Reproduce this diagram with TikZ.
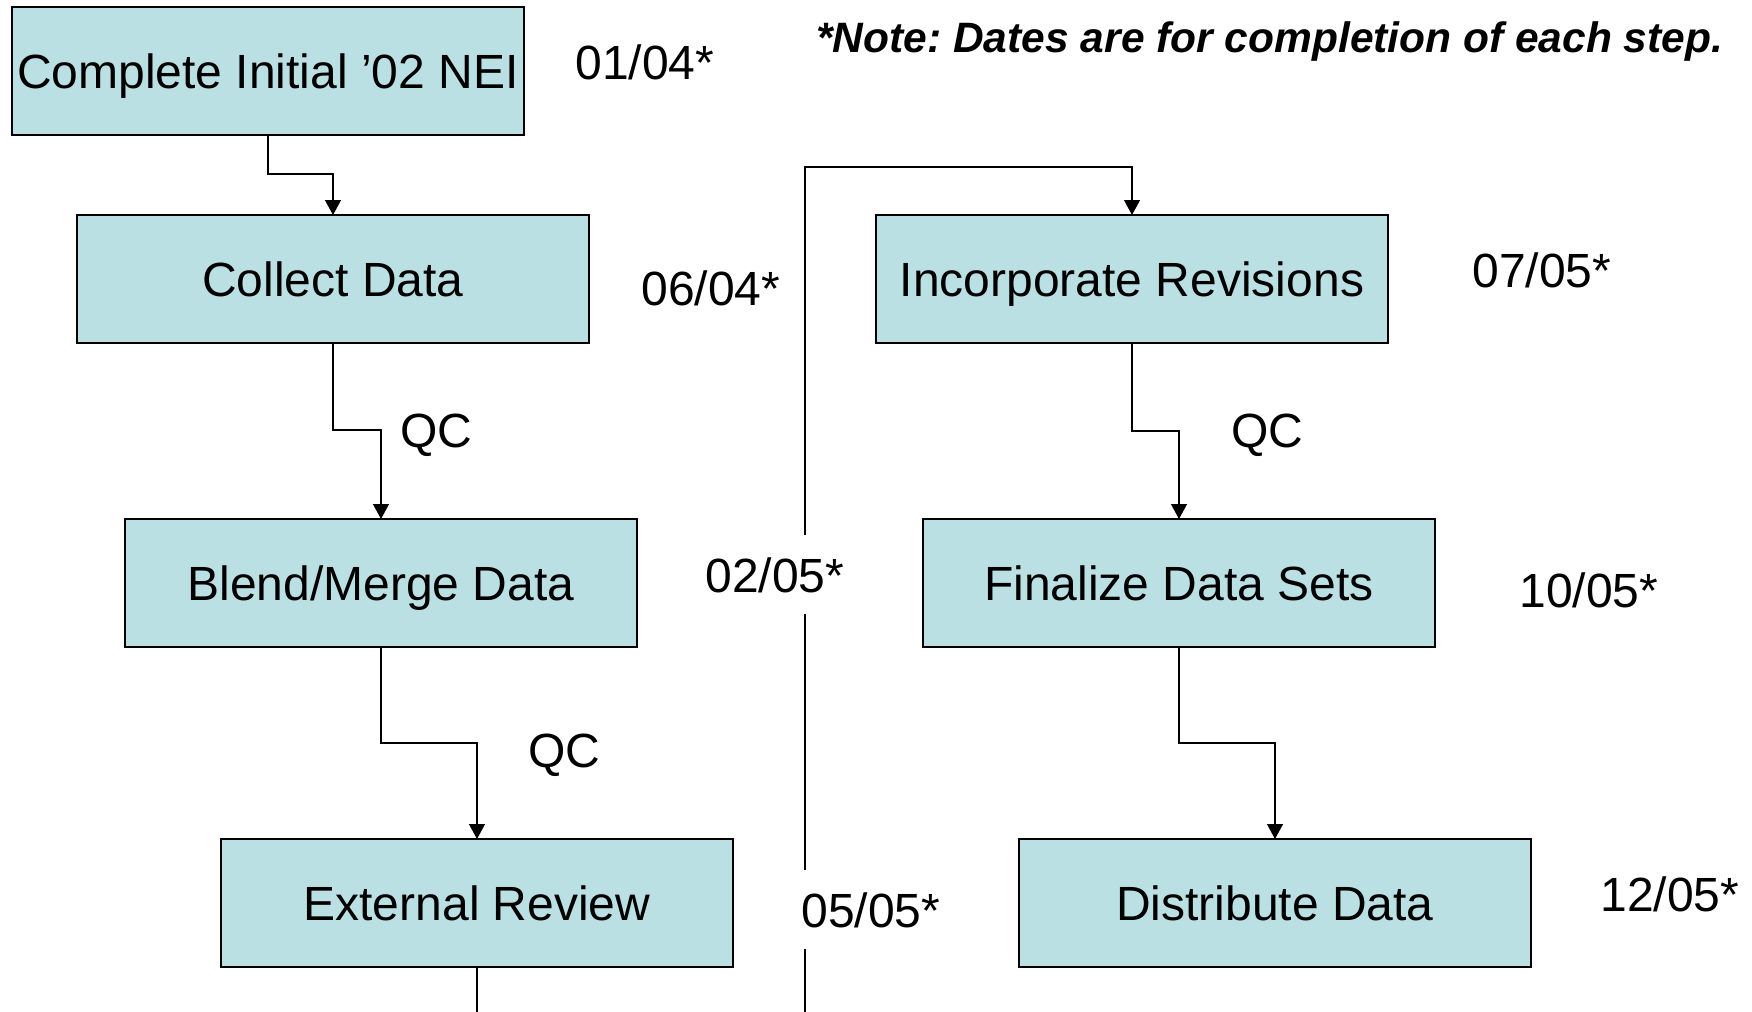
\documentclass[tikz,border=0pt]{standalone}
\usepackage{fontspec}
\setmainfont{Liberation Sans}
\usetikzlibrary{arrows.meta}
\definecolor{boxfill}{RGB}{187,224,227}
\frenchspacing
\begin{document}
\begin{tikzpicture}[x=0.5pt,y=-0.5pt,
  stepbox/.style={draw=black,line width=1pt,fill=boxfill,minimum width=256pt,minimum height=64pt,
    inner sep=0pt,outer sep=0pt,font=\fontsize{24}{29}\selectfont,text height=17.2pt,text depth=0pt},
  conn/.style={draw=black,line width=0.65pt},
  arr/.style={conn,-{Triangle[width=8pt,length=7.5pt]}},
  datelbl/.style={anchor=base west,fill=white,inner xsep=2pt,inner ysep=11pt,
    font=\fontsize{24}{29}\selectfont,text height=17.5pt,text depth=0pt},
  qclbl/.style={anchor=base west,inner sep=0pt,font=\fontsize{24}{29}\selectfont},
  notelbl/.style={anchor=base west,inner sep=0pt,font=\fontsize{21.25}{26}\selectfont\bfseries\itshape}]
\path[use as bounding box,fill=white] (0,0) rectangle (1752,1012);

% boxes
\node[stepbox] (b1) at (268,71)  {Complete Initial ’02 NEI};
\node[stepbox] (b2) at (333,279) {Collect Data};
\node[stepbox] (b3) at (381,583) {Blend/Merge Data};
\node[stepbox] (b4) at (477,903) {External Review};
\node[stepbox] (r1) at (1132,279) {Incorporate Revisions};
\node[stepbox] (r2) at (1179,583) {Finalize Data Sets};
\node[stepbox] (r3) at (1275,903) {Distribute Data};

% connectors
\draw[arr] (b1.south) -- ++(0,39) -| (b2.north);
\draw[arr] (b2.south) -- ++(0,87) -| (b3.north);
\draw[arr] (b3.south) -- ++(0,96) -| (b4.north);
\coordinate (endL) at (477,1012);
\draw[conn] (b4.south) -- (endL);
\coordinate (startR) at (805,1012);
\coordinate (turnR) at (805,167);
\draw[arr] (startR) -- (turnR) -| (r1.north);
\draw[arr] (r1.south) -- ++(0,88) -| (r2.north);
\draw[arr] (r2.south) -- ++(0,96) -| (r3.north);

% labels
\node[qclbl] (qc1) at (400,447) {QC};
\node[qclbl] (qc2) at (528,767) {QC};
\node[qclbl] (qc3) at (1231,447) {QC};

\node[datelbl] (d1) at (571,79)   {01/04*};
\node[datelbl] (d2) at (637,305)  {06/04*};
\node[datelbl] (d3) at (701,592)  {02/05*};
\node[datelbl] (d4) at (797,927)  {05/05*};
\node[datelbl] (d5) at (1468,287) {07/05*};
\node[datelbl] (d6) at (1515,607) {10/05*};
\node[datelbl] (d7) at (1596,911) {12/05*};

\node[notelbl] (note) at (816,52) {*Note: Dates are for completion of each step.};
\end{tikzpicture}
\end{document}
